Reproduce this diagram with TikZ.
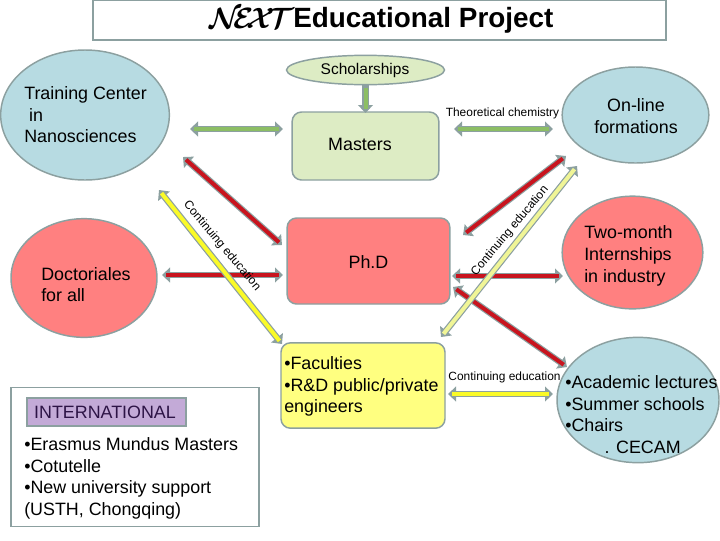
\documentclass[tikz,border=0pt]{standalone}
\usepackage{fontspec}
\setmainfont{Liberation Sans}
\usetikzlibrary{shapes.geometric,calc,arrows.meta}
\definecolor{edgegray}{RGB}{140,160,160}
\definecolor{lblue}{RGB}{183,219,226}
\definecolor{lgreen}{RGB}{221,236,196}
\definecolor{lred}{RGB}{255,128,128}
\definecolor{lyellow}{RGB}{255,255,128}
\definecolor{lpurple}{RGB}{195,170,215}
\definecolor{dpurple}{RGB}{45,20,70}
\definecolor{agreen}{RGB}{140,190,100}
\definecolor{ared}{RGB}{200,20,30}
\definecolor{ayellow}{RGB}{250,250,40}
\definecolor{apale}{RGB}{240,245,150}
\tikzset{
 px/.style={x=0.75pt,y=-0.75pt},
 shapeline/.style={draw=edgegray,line width=1.1pt},
 oval/.style={ellipse,shapeline,inner sep=0pt},
 rbox/.style={rectangle,rounded corners=7pt,shapeline,inner sep=0pt},
 lab/.style={font=\fontsize{13.4pt}{16.2pt}\selectfont,align=left,text=black,inner sep=0pt},
 small/.style={font=\fontsize{8.95pt}{10pt}\selectfont,text=black,inner sep=0pt},
 cont/.style={font=\fontsize{9pt}{10pt}\selectfont,text=black,inner sep=0pt},
 tipboth/.style={{Triangle[length=6pt,width=11pt]}-{Triangle[length=6pt,width=11pt]}},
 tipend/.style={-{Triangle[length=6pt,width=11pt]}},
}
\newcommand{\fatarrow}[4]{%
 \draw[draw=edgegray,line width=4.8pt,#4] (#1) -- (#2);
 \draw[draw=#3,line width=3pt,shorten <=3pt,shorten >=3pt] (#1) -- (#2);}
\begin{document}
\begin{tikzpicture}[px]
\useasboundingbox (0,0) rectangle (720,540);
\fill[white] (0,0) rectangle (720,540);
\node[rectangle,draw=edgegray,line width=1pt,minimum width=429.75pt,minimum height=30pt,inner sep=0pt] (title) at (379.5,20) {};
\node[inner sep=0pt,font=\fontsize{20.9pt}{22pt}\selectfont\bfseries,anchor=base west] (ttext) at (293,27) {Educational Project};
\node[inner sep=0pt,anchor=base west] (tnext) at (209,28) {\scalebox{2.2}{\boldmath$\mathcal{N}\mkern-4mu\mathcal{E}\mkern-4mu\mathcal{X}\mkern-4mu\mathcal{T}$}};
\node[oval,fill=lgreen,minimum width=118.5pt,minimum height=22pt] (sch) at (365.5,70) {};
\node[small,font=\fontsize{11.6pt}{13pt}\selectfont] (scht) at (365,70) {Scholarships};
\node[oval,fill=lblue,minimum width=126.5pt,minimum height=97.5pt] (tc) at (85,115) {};
\node[lab,anchor=west] (tct) at (24,115) {Training Center\\\ in\\Nanosciences};
\node[oval,fill=lblue,minimum width=110pt,minimum height=72pt] (ol) at (635.5,115) {};
\node[lab,align=center] (olt) at (636,116) {On-line\\formations};
\node[rbox,fill=lgreen,minimum width=110pt,minimum height=51pt] (ms) at (365.5,146) {};
\node[lab] (mst) at (360,144) {Masters};
\node[rbox,fill=lred,minimum width=122pt,minimum height=64.5pt] (phd) at (368.5,261) {};
\node[lab] (phdt) at (368.5,262) {Ph.D};
\node[oval,fill=lred,minimum width=109.5pt,minimum height=89pt] (doc) at (84,278) {};
\node[lab,anchor=west] (doct) at (41,284.5) {Doctoriales\\for all};
\node[oval,fill=lred,minimum width=105.5pt,minimum height=84.5pt] (tm) at (632.5,252.5) {};
\node[lab,anchor=west,font=\fontsize{13.4pt}{16.5pt}\selectfont] (tmt) at (584,256) {Two-month\\Internships\\in industry};
\node[rbox,fill=lyellow,minimum width=123pt,minimum height=64pt] (fac) at (363,385.5) {};
\node[lab,anchor=west] (fact) at (284,386.5) {•Faculties\\•R\&D public/private\\engineers};
\node[oval,fill=lblue,minimum width=121.5pt,minimum height=94pt] (ac) at (638,400) {};
\node[lab,anchor=west] (act) at (565,414.5) {•Academic lectures\\•Summer schools\\•Chairs\\\hspace*{2.2em}. CECAM};
\node[rectangle,shapeline,fill=white,minimum width=186pt,minimum height=104pt,inner sep=0pt] (intb) at (135,457) {};
\node[rectangle,shapeline,fill=lpurple,minimum width=119pt,minimum height=21pt,inner sep=0pt] (int) at (106.5,412) {};
\node[lab,text=dpurple] (intt) at (105,412) {INTERNATIONAL};
\node[lab,anchor=west] (intl) at (24,478.5) {•Erasmus Mundus Masters\\•Cotutelle\\•New university support\\(USTH, Chongqing)};
\node[small] (thc) at (502.5,113) {Theoretical chemistry};
\node[small] (cet) at (504.5,377) {Continuing education};
\coordinate (a1) at (190,129); \coordinate (a2) at (283,129);
\coordinate (b1) at (454,129); \coordinate (b2) at (553,129);
\coordinate (c1) at (365.5,84); \coordinate (c2) at (365.5,113);
\coordinate (d1) at (183,157); \coordinate (d2) at (282,245);
\coordinate (e1) at (159,190); \coordinate (e2) at (282,344);
\coordinate (f1) at (162,275); \coordinate (f2) at (283,275);
\coordinate (g1) at (463,235); \coordinate (g2) at (566,156);
\coordinate (h1) at (441,337); \coordinate (h2) at (577,166);
\coordinate (i1) at (452,276); \coordinate (i2) at (563,276);
\coordinate (j1) at (453,287); \coordinate (j2) at (567,367);
\coordinate (k1) at (448,394); \coordinate (k2) at (553,394);
\fatarrow{a1}{a2}{agreen}{tipboth}
\fatarrow{b1}{b2}{agreen}{tipboth}
\fatarrow{c1}{c2}{agreen}{tipend}
\fatarrow{d1}{d2}{ared}{tipboth}
\fatarrow{f1}{f2}{ared}{tipboth}
\fatarrow{g1}{g2}{ared}{tipboth}
\fatarrow{i1}{i2}{ared}{tipboth}
\fatarrow{j1}{j2}{ared}{tipboth}
\fatarrow{e1}{e2}{ayellow}{tipboth}
\fatarrow{h1}{h2}{apale}{tipboth}
\fatarrow{k1}{k2}{ayellow}{tipboth}
\node[cont,rotate=-50] (cl) at (222,246) {Continuing education};
\node[cont,rotate=50] (cr) at (510,231) {Continuing education};
\end{tikzpicture}
\end{document}
